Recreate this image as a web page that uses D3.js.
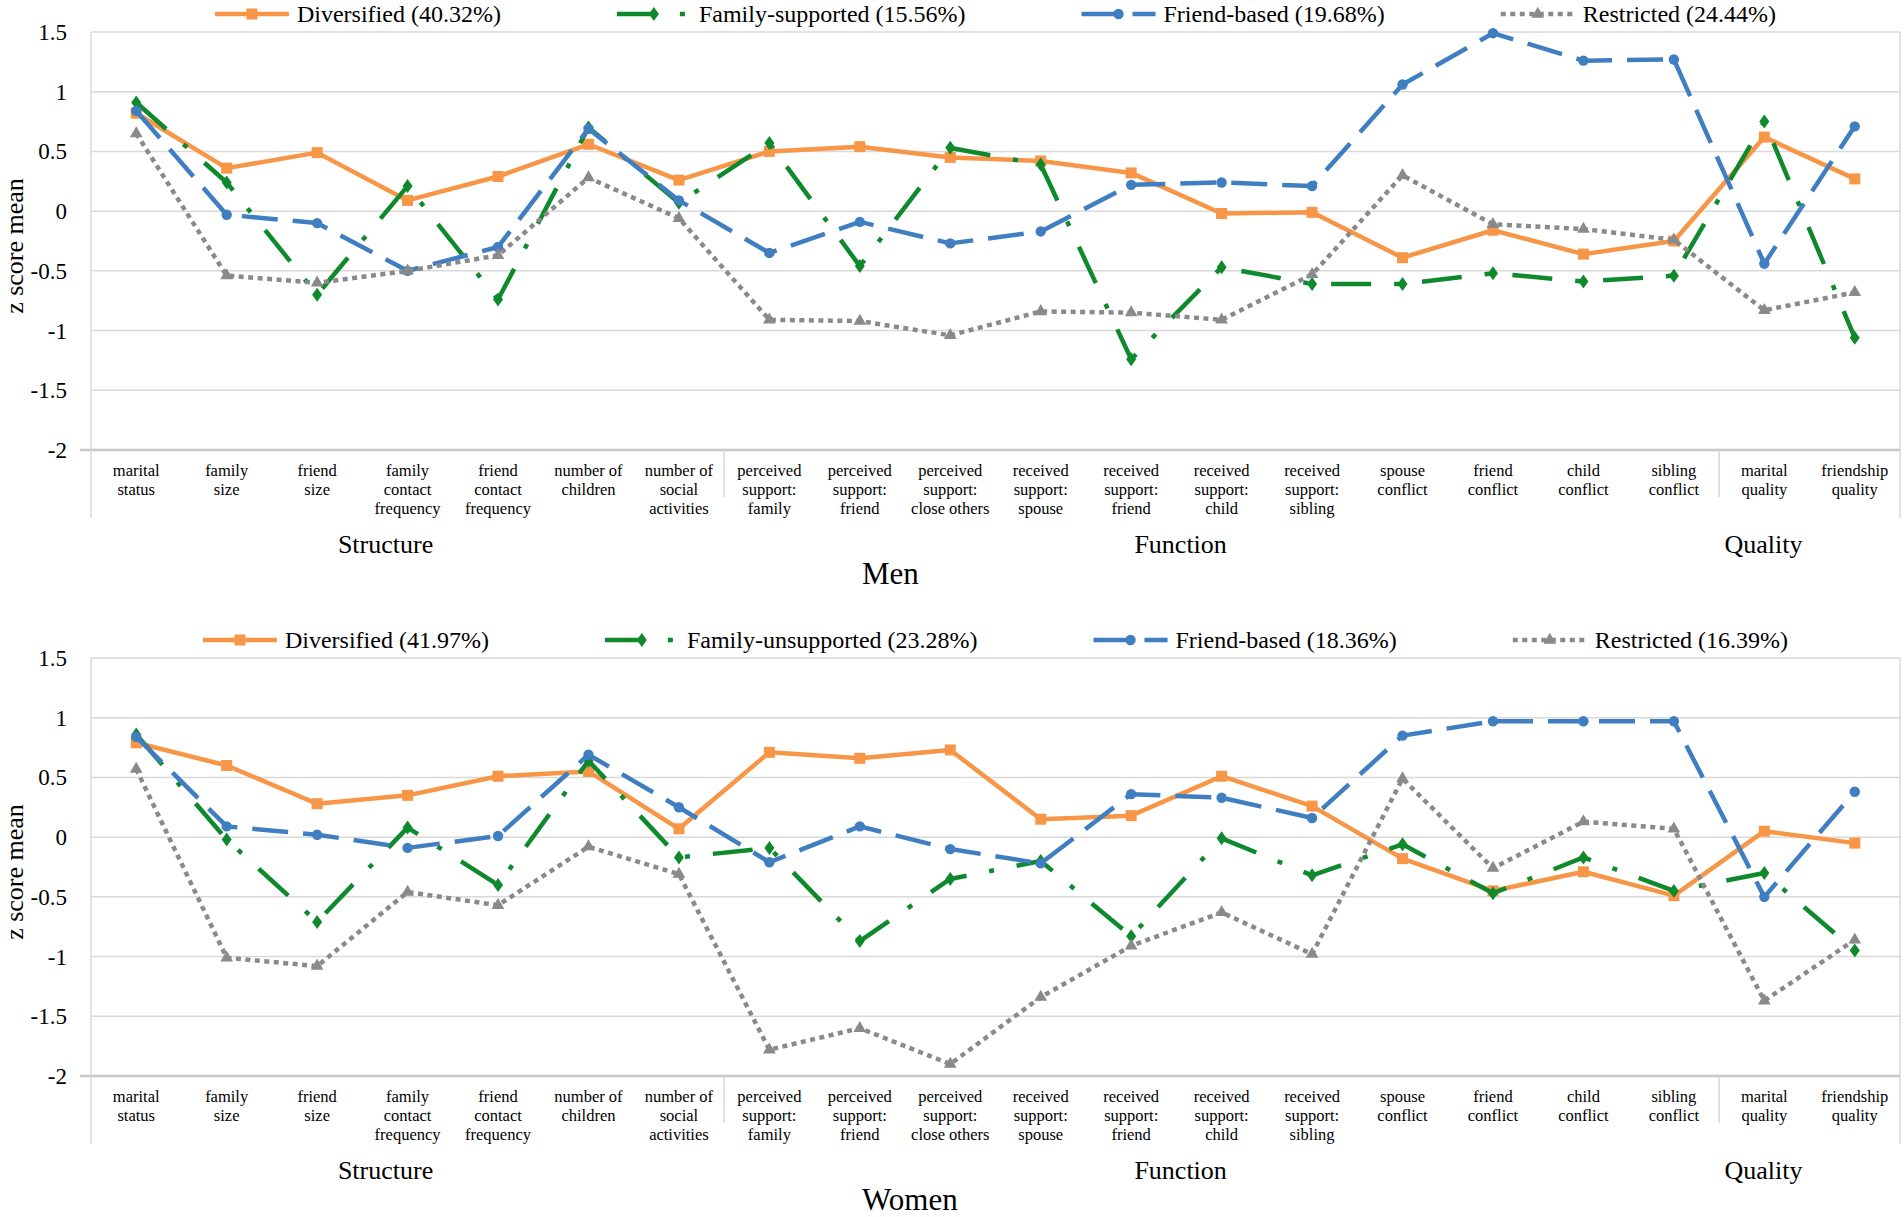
<!DOCTYPE html>
<html>
<head>
<meta charset="utf-8">
<script src="https://cdn.jsdelivr.net/npm/d3@7"></script>
<style>
  body { margin: 0; background: #fff; }
  svg { display: block; }
  svg text { font-family: 'Liberation Serif', 'DejaVu Serif', 'Times New Roman', Times, serif; fill: #000; }
</style>
</head>
<body>
<div id="chart"></div>
<script>
// categories (one entry per x position, lines split by "|")
const categories = [
  "marital|status", "family|size", "friend|size", "family|contact|frequency",
  "friend|contact|frequency", "number of|children", "number of|social|activities",
  "perceived|support:|family", "perceived|support:|friend", "perceived|support:|close others",
  "received|support:|spouse", "received|support:|friend", "received|support:|child",
  "received|support:|sibling", "spouse|conflict", "friend|conflict", "child|conflict",
  "sibling|conflict", "marital|quality", "friendship|quality"
];
const groupNames = ["Structure", "Function", "Quality"];
const groupStarts = [0, 7, 18];
const yTicks = [1.5, 1, 0.5, 0, -0.5, -1, -1.5, -2];
const yTickLabels = ["1.5", "1", "0.5", "0", "-0.5", "-1", "-1.5", "-2"];

const menLegend = ["Diversified (40.32%)", "Family-supported (15.56%)", "Friend-based (19.68%)", "Restricted (24.44%)"];
const womenLegend = ["Diversified (41.97%)", "Family-unsupported (23.28%)", "Friend-based (18.36%)", "Restricted (16.39%)"];

const menDiversified = [0.82, 0.36, 0.49, 0.09, 0.29, 0.56, 0.26, 0.50, 0.54, 0.45, 0.42, 0.32, -0.02, -0.01, -0.39, -0.16, -0.36, -0.25, 0.62, 0.27];
const menFamily      = [0.91, 0.24, -0.70, 0.21, -0.74, 0.70, 0.07, 0.57, -0.46, 0.53, 0.39, -1.24, -0.47, -0.61, -0.61, -0.52, -0.59, -0.54, 0.75, -1.06];
const menFriend      = [0.84, -0.03, -0.10, -0.50, -0.30, 0.69, 0.09, -0.35, -0.09, -0.27, -0.17, 0.22, 0.24, 0.21, 1.06, 1.49, 1.26, 1.27, -0.44, 0.71];
const menRestricted  = [0.65, -0.54, -0.60, -0.50, -0.37, 0.28, -0.06, -0.91, -0.92, -1.04, -0.84, -0.85, -0.91, -0.53, 0.30, -0.11, -0.15, -0.24, -0.83, -0.68];

const womenDiversified = [0.79, 0.60, 0.28, 0.35, 0.51, 0.55, 0.07, 0.71, 0.66, 0.73, 0.15, 0.18, 0.51, 0.26, -0.18, -0.45, -0.29, -0.49, 0.05, -0.05];
const womenFamily      = [0.86, -0.02, -0.71, 0.08, -0.40, 0.64, -0.17, -0.09, -0.87, -0.35, -0.20, -0.83, -0.01, -0.32, -0.06, -0.47, -0.17, -0.45, -0.30, -0.95];
const womenFriend      = [0.84, 0.09, 0.02, -0.09, 0.01, 0.69, 0.25, -0.21, 0.09, -0.10, -0.22, 0.36, 0.33, 0.16, 0.85, 0.97, 0.97, 0.97, -0.50, 0.38];
const womenRestricted  = [0.57, -1.01, -1.08, -0.46, -0.57, -0.08, -0.31, -1.78, -1.60, -1.90, -1.34, -0.91, -0.63, -0.98, 0.49, -0.26, 0.13, 0.07, -1.37, -0.86];

// look of each series (same order in both panels)
const styles = [
  { color: "#F79646", dash: null,          width: 4.5, marker: "square" },
  { color: "#0E8A2C", dash: "40,23,5,23",  width: 4.5, marker: "diamond" },
  { color: "#3F7EC1", dash: "36,15",       width: 4.5, marker: "circle" },
  { color: "#8A8A8A", dash: "5,4.5",       width: 4.5, marker: "triangle" }
];

const W = 1904, H = 1217;
const plotLeft = 91, plotRight = 1900, plotH = 418;
const groupLabelShift = [-22, -41, -46];
const serif = "'Liberation Serif', 'DejaVu Serif', 'Times New Roman', Times, serif";

const svg = d3.select("#chart").append("svg")
  .attr("width", W).attr("height", H)
  .attr("font-family", serif);

const x = d3.scalePoint().domain(d3.range(categories.length)).range([plotLeft, plotRight]).padding(0.5);
const step = x.step();

function markerPath(kind) {
  if (kind === "square") return d3.symbol(d3.symbolSquare, 121)();
  if (kind === "circle") return d3.symbol(d3.symbolCircle, 85)();
  if (kind === "triangle") return d3.symbol(d3.symbolTriangle, 70)();
  return "M0,-7L5,0L0,7L-5,0Z";
}

function drawPanel(top, series, legendLabels, title) {
  const g = svg.append("g");
  const y = d3.scaleLinear().domain([-2, 1.5]).range([top + plotH, top]);

  // gridlines
  g.selectAll("line.grid").data(yTicks.filter(d => d > -2)).join("line")
    .attr("x1", plotLeft).attr("x2", plotRight)
    .attr("y1", d => y(d)).attr("y2", d => y(d))
    .attr("stroke", "#D9D9D9").attr("stroke-width", 1.5);

  // category axis line
  g.append("line").attr("x1", plotLeft - 11).attr("x2", plotRight)
    .attr("y1", y(-2)).attr("y2", y(-2))
    .attr("stroke", "#C8C8C8").attr("stroke-width", 2.5);

  // outer frame lines
  [plotLeft, plotRight].forEach(px => {
    g.append("line").attr("x1", px).attr("x2", px)
      .attr("y1", top).attr("y2", y(-2) + 68)
      .attr("stroke", "#D9D9D9").attr("stroke-width", 1.5);
  });

  // group separators
  groupStarts.slice(1).forEach(s => {
    const px = x(s) - step / 2;
    g.append("line").attr("x1", px).attr("x2", px)
      .attr("y1", y(-2)).attr("y2", y(-2) + 47)
      .attr("stroke", "#D9D9D9").attr("stroke-width", 1.5);
  });

  // y tick labels
  g.selectAll("text.ytick").data(yTicks).join("text")
    .attr("x", 67).attr("y", d => y(d) + 8)
    .attr("text-anchor", "end").attr("font-size", 23)
    .text((d, i) => yTickLabels[i]);

  // y title
  const ymid = (y(1.5) + y(-2)) / 2 + 5;
  g.append("text").attr("transform", `translate(23,${ymid}) rotate(-90)`)
    .attr("text-anchor", "middle").attr("font-size", 26).text("z score mean");

  // category labels
  categories.forEach((c, i) => {
    const t = g.append("text").attr("text-anchor", "middle").attr("font-size", 16.5);
    c.split("|").forEach((line, j) => {
      t.append("tspan").attr("x", x(i)).attr("y", y(-2) + 26 + j * 19).text(line);
    });
  });

  // group labels
  groupNames.forEach((name, k) => {
    const a = groupStarts[k];
    const b = (k + 1 < groupStarts.length ? groupStarts[k + 1] : categories.length) - 1;
    g.append("text").attr("x", (x(a) + x(b)) / 2 + groupLabelShift[k]).attr("y", y(-2) + 103)
      .attr("text-anchor", "middle").attr("font-size", 26).text(name);
  });

  // panel title
  g.append("text").attr("x", 862).attr("y", y(-2) + 134)
    .attr("font-size", 31).text(title);

  // series
  const line = d3.line().x((d, i) => x(i)).y(d => y(d));
  series.forEach((vals, k) => {
    const st = styles[k];
    const sg = g.append("g");
    sg.append("path").attr("d", line(vals)).attr("fill", "none")
      .attr("stroke", st.color).attr("stroke-width", st.width)
      .attr("stroke-dasharray", st.dash).attr("stroke-linejoin", "round");
    sg.selectAll("path.m").data(vals).join("path")
      .attr("d", markerPath(st.marker))
      .attr("transform", (d, i) => `translate(${x(i)},${y(d)})`)
      .attr("fill", st.color);
  });

  // legend
  const ly = top - 18;
  const lg = g.append("g");
  const items = legendLabels.map((lab, k) => {
    const it = lg.append("g");
    it.append("line").attr("x1", 0).attr("x2", 74).attr("y1", 0).attr("y2", 0)
      .attr("stroke", styles[k].color).attr("stroke-width", styles[k].width)
      .attr("stroke-dasharray", styles[k].dash);
    it.append("path").attr("d", markerPath(styles[k].marker))
      .attr("transform", "translate(37,0)").attr("fill", styles[k].color);
    const tx = it.append("text").attr("x", 82).attr("y", 8).attr("font-size", 24).text(lab);
    return { it, w: 82 + tx.node().getComputedTextLength() };
  });
  const gap = 116;
  const total = d3.sum(items, d => d.w) + gap * (items.length - 1);
  let cx = (plotLeft + plotRight) / 2 - total / 2;
  items.forEach(d => {
    d.it.attr("transform", `translate(${cx},${ly})`);
    cx += d.w + gap;
  });
}

drawPanel(32, [menDiversified, menFamily, menFriend, menRestricted], menLegend, "Men");
drawPanel(658, [womenDiversified, womenFamily, womenFriend, womenRestricted], womenLegend, "Women");
</script>
</body>
</html>
